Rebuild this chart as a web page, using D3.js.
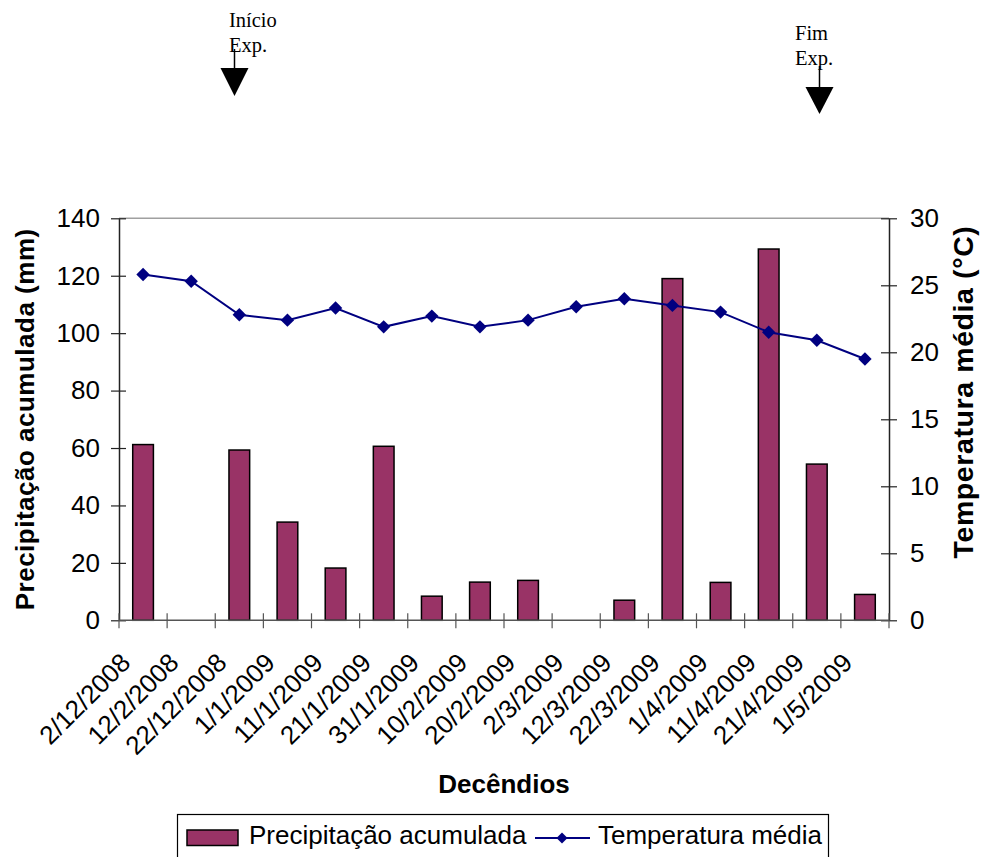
<!DOCTYPE html>
<html>
<head>
<meta charset="utf-8">
<script src="https://cdn.jsdelivr.net/npm/d3@7/dist/d3.min.js"></script>
<style>
  html, body { margin: 0; padding: 0; background: #fff; }
  svg { display: block; }
  text { font-family: "Liberation Sans", Arial, sans-serif; fill: #000; }
</style>
</head>
<body>
<svg id="chart" width="982" height="857"></svg>
<script>
// ---- Data ----
const categories = ["2/12/2008","12/2/2008","22/12/2008","1/1/2009","11/1/2009","21/1/2009","31/1/2009","10/2/2009","20/2/2009","2/3/2009","12/3/2009","22/3/2009","1/4/2009","11/4/2009","21/4/2009","1/5/2009"];
const precipitacao = [61.2, 0, 59.3, 34.2, 18.2, 60.6, 8.4, 13.3, 13.9, 0, 7.0, 119.0, 13.2, 129.3, 54.4, 9.0];
const temperatura = [25.8, 25.3, 22.8, 22.4, 23.3, 21.9, 22.7, 21.9, 22.4, 23.4, 24.0, 23.5, 23.0, 21.5, 20.9, 19.5];
const leftTicks = [0, 20, 40, 60, 80, 100, 120, 140];
const rightTicks = [0, 5, 10, 15, 20, 25, 30];
const seriesNames = ["Precipitação acumulada", "Temperatura média"];
const axisTitles = { left: "Precipitação acumulada (mm)", right: "Temperatura média (°C)", bottom: "Decêndios" };
const annotations = [
  { lines: ["Início", "Exp."], tx: 229, ty: 27, ax: 234.5, lineTop: 49, triTop: 68, triBottom: 96 },
  { lines: ["Fim", "Exp."], tx: 795, ty: 40, ax: 819.5, lineTop: 66, triTop: 87, triBottom: 114 }
];

// ---- Layout ----
const L = 119, R = 889, T = 218.3, B = 620.3;
const barColor = "#993366", lineColor = "#000080";

const svg = d3.select("#chart");

const xb = d3.scaleBand().domain(categories).range([L, R]);
const yL = d3.scaleLinear().domain([0, 140]).range([B, T]);
const yR = d3.scaleLinear().domain([0, 30]).range([B, T]);
const barW = xb.bandwidth() * 0.43;

// plot area top border
svg.append("line").attr("x1", L).attr("x2", R).attr("y1", T).attr("y2", T)
  .attr("stroke", "#a0a0a0").attr("stroke-width", 1.5);

// bars
svg.append("g").selectAll("rect").data(precipitacao).join("rect")
  .attr("x", (d, i) => xb(categories[i]) + (xb.bandwidth() - barW) / 2)
  .attr("width", barW)
  .attr("y", d => yL(d))
  .attr("height", d => B - yL(d))
  .attr("fill", barColor)
  .attr("stroke", "#000").attr("stroke-width", 1.5)
  .style("display", d => d > 0 ? null : "none");

// line
const cx = i => xb(categories[i]) + xb.bandwidth() / 2;
svg.append("path")
  .datum(temperatura)
  .attr("fill", "none").attr("stroke", lineColor).attr("stroke-width", 2)
  .attr("d", d3.line().x((d, i) => cx(i)).y(d => yR(d)));
svg.append("g").selectAll("path").data(temperatura).join("path")
  .attr("d", d3.symbol().type(d3.symbolSquare).size(90))
  .attr("transform", (d, i) => `translate(${cx(i)},${yR(d)}) rotate(45)`)
  .attr("fill", lineColor);

// left axis
const gL = svg.append("g").attr("transform", `translate(${L},0)`)
  .call(d3.axisLeft(yL).tickValues(leftTicks).tickSize(0).tickPadding(19));
gL.select(".domain").attr("stroke", "#222").attr("stroke-width", 1.5);
gL.selectAll(".tick text").attr("font-size", 26).attr("font-family", "Liberation Sans, Arial, sans-serif").attr("fill", "#000");
gL.selectAll(".tick").append("line").attr("x1", -8).attr("x2", 7).attr("stroke", "#222").attr("stroke-width", 1.2);

// right axis
const gR = svg.append("g").attr("transform", `translate(${R},0)`)
  .call(d3.axisRight(yR).tickValues(rightTicks).tickSize(0).tickPadding(21));
gR.select(".domain").attr("stroke", "#222").attr("stroke-width", 1.5);
gR.selectAll(".tick text").attr("font-size", 26).attr("font-family", "Liberation Sans, Arial, sans-serif").attr("fill", "#000");
gR.selectAll(".tick").append("line").attr("x1", -8).attr("x2", 8).attr("stroke", "#222").attr("stroke-width", 1.2);

// bottom axis
const gB = svg.append("g").attr("transform", `translate(0,${B})`);
gB.append("line").attr("x1", L).attr("x2", R).attr("stroke", "#555").attr("stroke-width", 1.5);
const boundaries = d3.range(categories.length + 1).map(i => L + i * xb.step());
gB.selectAll("line.tk").data(boundaries).join("line").attr("class", "tk")
  .attr("x1", d => d).attr("x2", d => d).attr("y1", -7).attr("y2", 8)
  .attr("stroke", "#555").attr("stroke-width", 1.2);
gB.selectAll("text.lbl").data(categories).join("text").attr("class", "lbl")
  .attr("transform", (d, i) => `translate(${cx(i) - 11},${44}) rotate(-45)`)
  .attr("text-anchor", "end")
  .attr("font-size", 26)
  .text(d => d);

// axis titles
svg.append("text")
  .attr("transform", `translate(34,${(T + B) / 2}) rotate(-90)`)
  .attr("text-anchor", "middle").attr("font-size", 26).attr("font-weight", "bold")
  .attr("letter-spacing", 0.5)
  .text(axisTitles.left);
svg.append("text")
  .attr("transform", `translate(973,392) rotate(-90)`)
  .attr("text-anchor", "middle").attr("font-size", 28.5).attr("font-weight", "bold")
  .attr("letter-spacing", 0.6)
  .text(axisTitles.right);
svg.append("text")
  .attr("x", (L + R) / 2).attr("y", 793)
  .attr("text-anchor", "middle").attr("font-size", 26).attr("font-weight", "bold")
  .text(axisTitles.bottom);

// legend
const lg = svg.append("g");
lg.append("rect").attr("x", 177.5).attr("y", 814.5).attr("width", 651).attr("height", 60)
  .attr("fill", "#fff").attr("stroke", "#000").attr("stroke-width", 1.2);
lg.append("rect").attr("x", 187).attr("y", 830).attr("width", 51).attr("height", 15.5)
  .attr("fill", barColor).attr("stroke", "#000").attr("stroke-width", 1.5);
lg.append("text").attr("x", 249).attr("y", 844).attr("font-size", 26).text(seriesNames[0]);
lg.append("line").attr("x1", 535).attr("x2", 590).attr("y1", 838).attr("y2", 838)
  .attr("stroke", lineColor).attr("stroke-width", 2);
lg.append("path").attr("transform", "translate(562,838) rotate(45)")
  .attr("d", d3.symbol().type(d3.symbolSquare).size(60)).attr("fill", lineColor);
lg.append("text").attr("x", 598).attr("y", 844).attr("font-size", 26).text(seriesNames[1]);

// annotations
const an = svg.append("g").selectAll("g").data(annotations).join("g");
an.each(function(a) {
  const g = d3.select(this);
  a.lines.forEach((t, k) => {
    g.append("text").attr("x", a.tx).attr("y", a.ty + k * 24.5)
      .attr("font-size", 20.5)
      .style("font-family", "'Liberation Serif', 'Times New Roman', serif")
      .text(t);
  });
  g.append("line").attr("x1", a.ax).attr("x2", a.ax).attr("y1", a.lineTop).attr("y2", a.triTop)
    .attr("stroke", "#000").attr("stroke-width", 1.5);
  g.append("path").attr("d", `M${a.ax - 14},${a.triTop} L${a.ax + 14},${a.triTop} L${a.ax},${a.triBottom} Z`)
    .attr("fill", "#000");
});
</script>
</body>
</html>
